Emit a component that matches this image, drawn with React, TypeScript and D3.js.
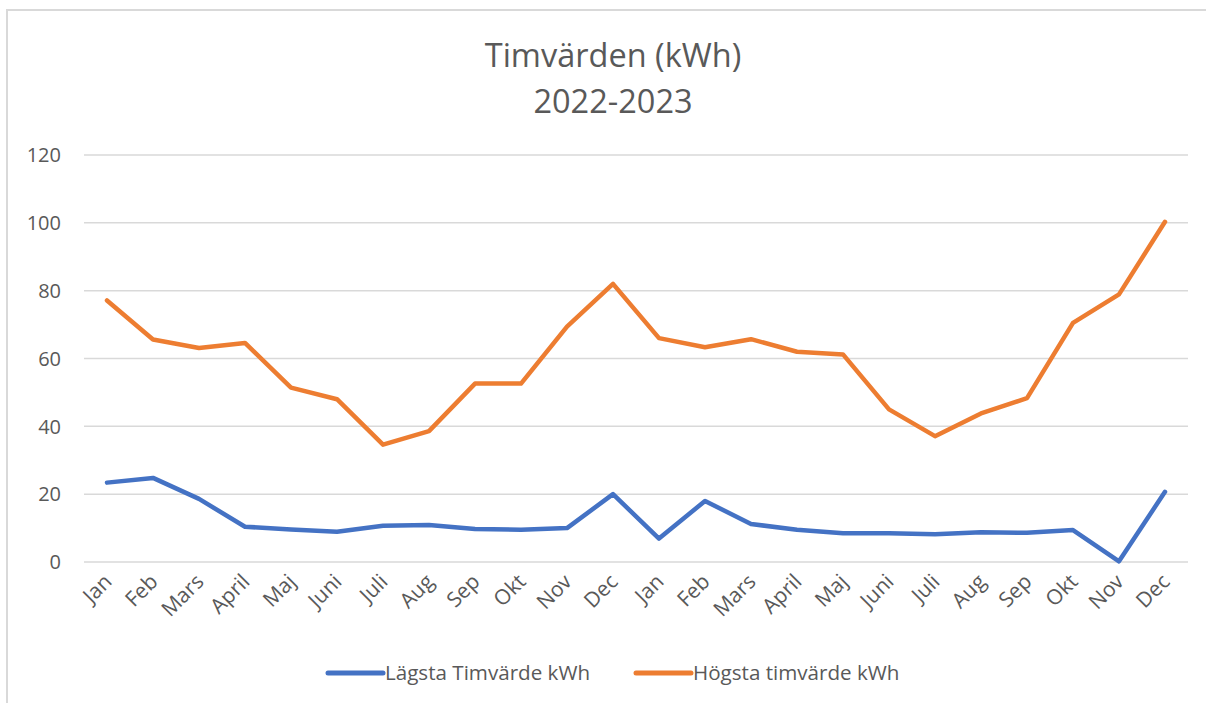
import React from "react";
import * as d3 from "d3";

const months = [
  "Jan", "Feb", "Mars", "April", "Maj", "Juni", "Juli", "Aug", "Sep", "Okt", "Nov", "Dec",
  "Jan", "Feb", "Mars", "April", "Maj", "Juni", "Juli", "Aug", "Sep", "Okt", "Nov", "Dec",
];

const lowest = [
  23.4, 24.8, 18.6, 10.4, 9.6, 8.9, 10.7, 10.9, 9.7, 9.5, 10.0, 20.0,
  6.9, 18.0, 11.2, 9.5, 8.5, 8.5, 8.2, 8.8, 8.6, 9.4, 0.2, 20.7,
];

const highest = [
  77.1, 65.6, 63.1, 64.6, 51.4, 48.0, 34.6, 38.6, 52.6, 52.6, 69.4, 82.0,
  66.0, 63.3, 65.7, 62.0, 61.2, 45.0, 37.1, 43.8, 48.3, 70.5, 78.9, 100.3,
];

const yTicks = [0, 20, 40, 60, 80, 100, 120];

const series = [
  { name: "Lägsta Timvärde kWh", values: lowest, color: "#4472C4" },
  { name: "Högsta timvärde kWh", values: highest, color: "#ED7D31" },
];

const W = 1206;
const H = 703;
const font = "'Open Sans', sans-serif";
const textColor = "#595959";

const App = () => {
  const x = d3
    .scaleBand<number>()
    .domain(d3.range(months.length))
    .range([84, 1188]);
  const y = d3.scaleLinear().domain([0, 120]).range([562, 155]);
  const px = (i: number) => (x(i) as number) + x.bandwidth() / 2;

  const line = d3
    .line<number>()
    .x((d, i) => px(i))
    .y(d => y(d));

  const legendX = [328, 636];

  return (
    <svg
      width={W}
      height={H}
      style={{ position: "absolute", left: 0, top: 0, display: "block", background: "#fff" }}
      fontFamily={font}
    >
      <rect x={7} y={10} width={1300} height={800} fill="#fff" stroke="#d9d9d9" strokeWidth={2} />

      <text x={613} y={67} textAnchor="middle" fontSize={32.5} fill={textColor}>
        Timvärden (kWh)
      </text>
      <text x={613} y={113} textAnchor="middle" fontSize={32.5} fill={textColor}>
        2022-2023
      </text>

      {yTicks.map(t => (
        <g key={t}>
          <line x1={84} x2={1188} y1={y(t)} y2={y(t)} stroke="#d9d9d9" strokeWidth={1.5} />
          <text x={61} y={y(t)} dy="0.36em" textAnchor="end" fontSize={20} fill={textColor}>
            {t}
          </text>
        </g>
      ))}

      {months.map((m, i) => (
        <text
          key={i}
          transform={`translate(${px(i) + 6},${583}) rotate(-45)`}
          textAnchor="end"
          fontSize={21}
          fill={textColor}
        >
          {m}
        </text>
      ))}

      {series.map(s => (
        <path
          key={s.name}
          d={line(s.values) ?? ""}
          fill="none"
          stroke={s.color}
          strokeWidth={4.5}
          strokeLinejoin="round"
          strokeLinecap="round"
        />
      ))}

      {series.map((s, i) => (
        <g key={s.name} transform={`translate(${legendX[i]},673)`}>
          <line x1={0} x2={55} y1={0} y2={0} stroke={s.color} strokeWidth={5} strokeLinecap="round" />
          <text x={57} y={0} dy="0.36em" fontSize={20.6} fill={textColor}>
            {s.name}
          </text>
        </g>
      ))}
    </svg>
  );
};

export default App;
